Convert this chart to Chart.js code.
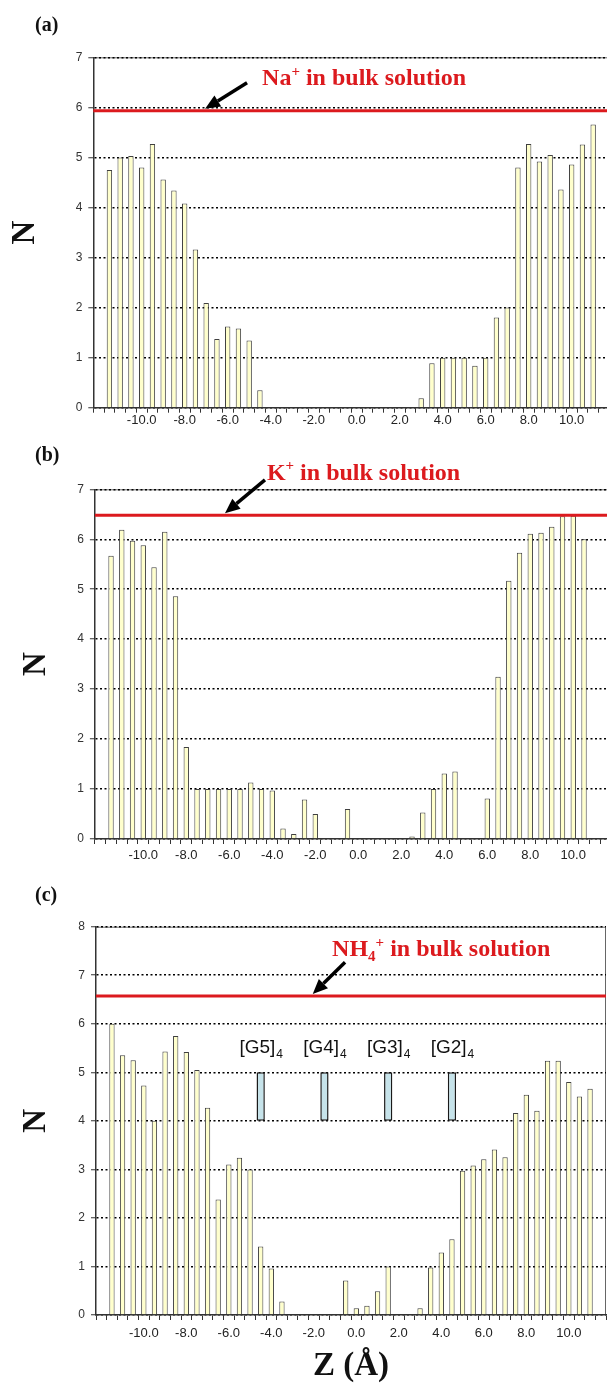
<!DOCTYPE html>
<html>
<head>
<meta charset="utf-8">
<title>Cation counts along the channel axis</title>
<script src="https://cdn.jsdelivr.net/npm/chart.js@4.4.1/dist/chart.umd.min.js"></script>
<style>
    html, body { margin: 0; padding: 0; background: #fff; }
    body { width: 607px; height: 1386px; position: relative; overflow: hidden; }
    canvas.panel { position: absolute; left: 0; }
    .tag {
        position: absolute; left: 35px; z-index: 2;
        font: bold 20px "Liberation Serif", "Times New Roman", serif;
        line-height: 24px; color: #111;
    }
</style>
</head>
<body>
<canvas id="chartNa" class="panel" style="top:0px" width="620" height="440"></canvas>
<canvas id="chartK" class="panel" style="top:430px" width="630" height="440"></canvas>
<canvas id="chartNH4" class="panel" style="top:870px" width="607" height="516"></canvas>
<div class="tag" style="top:12px">(a)</div>
<div class="tag" style="top:442px">(b)</div>
<div class="tag" style="top:882px">(c)</div>

<script>
// ==========================================
// DATA: ion counts N per 0.5 Å slab along Z
// ==========================================
const zLabels = [
    -12.0, -11.5, -11.0, -10.5, -10.0, -9.5, -9.0, -8.5,
    -8.0, -7.5, -7.0, -6.5, -6.0, -5.5, -5.0, -4.5,
    -4.0, -3.5, -3.0, -2.5, -2.0, -1.5, -1.0, -0.5,
    0.0, 0.5, 1.0, 1.5, 2.0, 2.5, 3.0, 3.5,
    4.0, 4.5, 5.0, 5.5, 6.0, 6.5, 7.0, 7.5,
    8.0, 8.5, 9.0, 9.5, 10.0, 10.5, 11.0, 11.5
];

const naCount = [
    0, 4.75, 5.00, 5.03, 4.80, 5.27, 4.56, 4.34,
    4.08, 3.16, 2.09, 1.37, 1.62, 1.58, 1.34, 0.35,
    0, 0, 0, 0, 0, 0, 0, 0,
    0, 0, 0, 0, 0, 0, 0.19, 0.89,
    1.00, 1.00, 1.00, 0.84, 1.00, 1.80, 2.00, 4.80,
    5.27, 4.92, 5.05, 4.36, 4.86, 5.26, 5.66, 0
];

const kCount = [
    0, 5.67, 6.19, 5.97, 5.88, 5.44, 6.15, 4.86,
    1.84, 1.00, 1.00, 1.00, 1.00, 1.00, 1.13, 1.00,
    0.97, 0.21, 0.10, 0.79, 0.50, 0, 0, 0.60,
    0, 0, 0, 0, 0, 0.05, 0.53, 1.00,
    1.31, 1.35, 0, 0, 0.81, 3.25, 5.17, 5.73,
    6.11, 6.13, 6.25, 6.46, 6.47, 6.00, 0, 0
];

const nh4Count = [
    0, 6.00, 5.35, 5.25, 4.73, 4.00, 5.43, 5.75,
    5.42, 5.05, 4.27, 2.38, 3.10, 3.24, 3.00, 1.41,
    0.96, 0.28, 0, 0, 0, 0, 0, 0.71,
    0.14, 0.19, 0.49, 1.00, 0, 0, 0.14, 0.98,
    1.29, 1.56, 2.97, 3.08, 3.21, 3.41, 3.25, 4.16,
    4.54, 4.21, 5.24, 5.24, 4.80, 4.50, 4.66, 0
];

// bulk-solution reference levels (Na+, K+, NH4+)
const bulkLevels = [5.93, 6.48, 6.57];
const yMaxes = [7, 7, 8];
const yTicks = [1, 1, 1];

// G-quartet positions and the N span their markers cover
const gBlockZ = [-4.5, -1.5, 1.5, 4.5];
const gBlockNames = ['G5', 'G4', 'G3', 'G2'];
const gBlockRange = [4, 5];

// ==========================================
// STYLE
// ==========================================
const RED = '#dc1a1e';
const INK = '#1a1a1a';
const SERIF = '"Liberation Serif", "Times New Roman", serif';
const SANS = '"Liberation Sans", Arial, sans-serif';

// fractional category position for an arbitrary Z value
function zPixel(xScale, z) {
    const step = zLabels[1] - zLabels[0];
    const p0 = xScale.getPixelForValue(0);
    const p1 = xScale.getPixelForValue(1);
    return p0 + (z - zLabels[0]) / step * (p1 - p0);
}

function drawArrow(ctx, x0, y0, x1, y1) {
    const ang = Math.atan2(y1 - y0, x1 - x0);
    const hl = 15, hw = 6.5;
    const bx = x1 - hl * Math.cos(ang);
    const by = y1 - hl * Math.sin(ang);
    ctx.strokeStyle = '#000';
    ctx.fillStyle = '#000';
    ctx.lineWidth = 3.5;
    ctx.lineCap = 'butt';
    ctx.beginPath();
    ctx.moveTo(x0, y0);
    ctx.lineTo(bx, by);
    ctx.stroke();
    ctx.beginPath();
    ctx.moveTo(x1, y1);
    ctx.lineTo(bx + hw * Math.sin(ang), by - hw * Math.cos(ang));
    ctx.lineTo(bx - hw * Math.sin(ang), by + hw * Math.cos(ang));
    ctx.closePath();
    ctx.fill();
}

// red bulk line, its label + arrow, plot frame and quartet captions
function decor(p) {
    return {
        id: 'decor',
        beforeDraw(chart) {
            const { ctx, chartArea: a } = chart;
            ctx.save();
            ctx.strokeStyle = '#666';
            ctx.lineWidth = 1;
            ctx.beginPath();
            ctx.moveTo(a.left, a.top + 0.5);
            ctx.lineTo(a.right - 0.5, a.top + 0.5);
            ctx.lineTo(a.right - 0.5, a.bottom);
            ctx.stroke();
            ctx.restore();
        },
        afterDatasetsDraw(chart) {
            const { ctx, chartArea: a, scales: { x, y } } = chart;
            ctx.save();

            const yb = y.getPixelForValue(p.bulk);
            ctx.strokeStyle = RED;
            ctx.lineWidth = 3;
            ctx.beginPath();
            ctx.moveTo(a.left, yb);
            ctx.lineTo(a.right, yb);
            ctx.stroke();

            ctx.fillStyle = RED;
            ctx.textAlign = 'left';
            ctx.textBaseline = 'middle';
            let cx = zPixel(x, p.text.z);
            const cy = y.getPixelForValue(p.text.n);
            p.ion.forEach(([t, shift]) => {
                ctx.font = `bold ${shift ? 15 : 24}px ${SERIF}`;
                ctx.fillText(t, cx, cy - shift * 7);
                cx += ctx.measureText(t).width;
            });

            drawArrow(ctx,
                zPixel(x, p.arrow.z0), y.getPixelForValue(p.arrow.n0),
                zPixel(x, p.arrow.z1), yb - 2);

            if (p.blocks) {
                const ly = y.getPixelForValue(p.blockLabelN);
                ctx.fillStyle = '#111';
                gBlockZ.forEach((z, i) => {
                    const main = `[${gBlockNames[i]}]`;
                    ctx.font = `19px ${SANS}`;
                    const w1 = ctx.measureText(main).width;
                    ctx.font = `12px ${SANS}`;
                    const w2 = ctx.measureText('4').width;
                    const sx = zPixel(x, z) - (w1 + w2) / 2;
                    ctx.font = `19px ${SANS}`;
                    ctx.fillText(main, sx, ly);
                    ctx.font = `12px ${SANS}`;
                    ctx.fillText('4', sx + w1 + 1, ly + 7);
                });
            }
            ctx.restore();
        }
    };
}

// ==========================================
// PANELS
// ==========================================
const panels = [
    {
        id: 'chartNa', counts: naCount, bulk: bulkLevels[0], yMax: yMaxes[0], step: yTicks[0],
        ion: [['Na', 0], ['+', 1], [' in bulk solution', 0]],
        area: { top: 57.3, left: 93.3, xh: 32.3, right: 10.7 }, nPad: 6, tickPad: 0,
        text: { z: -4.4, n: 6.57 }, arrow: { z0: -5.1, n0: 6.49, z1: -7.05 }
    },
    {
        id: 'chartK', counts: kCount, bulk: bulkLevels[1], yMax: yMaxes[1], step: yTicks[1],
        ion: [['K', 0], ['+', 1], [' in bulk solution', 0]],
        area: { top: 59.3, left: 94.9, xh: 31, right: 19.1 }, nPad: 17, tickPad: 4,
        text: { z: -4.25, n: 7.32 }, arrow: { z0: -4.34, n0: 7.19, z1: -6.2 }
    },
    {
        id: 'chartNH4', counts: nh4Count, bulk: bulkLevels[2], yMax: yMaxes[2], step: yTicks[2],
        ion: [['NH', 0], ['4', -1], ['+', 1], [' in bulk solution', 0]],
        area: { top: 56.7, left: 96, xh: 71, right: 1 }, nPad: 17, tickPad: 6,
        text: { z: -1.14, n: 7.52 }, arrow: { z0: -0.53, n0: 7.27, z1: -2.05 },
        blocks: true, blockLabelN: 5.5, zTitle: true
    }
];

panels.forEach(p => {
    const datasets = [{
        data: p.counts,
        backgroundColor: '#ffffcc',
        borderColor: '#404040',
        borderWidth: 1,
        barPercentage: 0.5,
        categoryPercentage: 1,
        grouped: false,
        order: 2
    }];

    if (p.blocks) {
        datasets.push({
            data: zLabels.map(z => gBlockZ.includes(z) ? gBlockRange.slice() : null),
            backgroundColor: '#c6e3ea',
            borderColor: INK,
            borderWidth: 1.5,
            borderSkipped: false,
            barPercentage: 0.78,
            categoryPercentage: 1,
            grouped: false,
            order: 1
        });
    }

    new Chart(document.getElementById(p.id), {
        type: 'bar',
        data: { labels: zLabels.map(z => z.toFixed(1)), datasets },
        plugins: [decor(p)],
        options: {
            responsive: false,
            animation: false,
            devicePixelRatio: 1,
            layout: { padding: { top: p.area.top, right: p.area.right, bottom: 0, left: 0 } },
            plugins: { legend: { display: false }, tooltip: { enabled: false } },
            scales: {
                x: {
                    offset: true,
                    grid: {
                        offset: true, drawOnChartArea: false, drawTicks: true,
                        tickLength: 5, tickColor: '#333', tickWidth: 1
                    },
                    border: { display: true, color: '#333', width: 1.5 },
                    ticks: {
                        autoSkip: false, maxRotation: 0, minRotation: 0,
                        padding: p.tickPad, color: '#222',
                        font: { family: SANS, size: 13 },
                        callback: (v, i) => {
                            const z = zLabels[i];
                            return (z % 2 === 0 && Math.abs(z) <= 10) ? z.toFixed(1) : '';
                        }
                    },
                    title: {
                        display: !!p.zTitle, text: 'Z (Å)', color: '#111',
                        font: { family: SERIF, size: 33, weight: 'bold' },
                        padding: { top: 0, bottom: 0 }
                    },
                    afterFit(s) { s.height = p.area.xh; }
                },
                y: {
                    min: 0, max: p.yMax,
                    ticks: {
                        stepSize: p.step, padding: 6, color: '#333',
                        font: { family: SANS, size: 12 }
                    },
                    grid: {
                        color: '#000', lineWidth: 1.5,
                        tickLength: 5, tickColor: '#333', tickWidth: 1, tickBorderDash: []
                    },
                    border: { display: true, color: '#333', width: 1.5, dash: [2, 2.5] },
                    title: {
                        display: true, text: 'N', color: '#111',
                        font: { family: SERIF, size: 33, weight: 'bold' },
                        padding: { top: p.nPad, bottom: 0 }
                    },
                    afterFit(s) { s.width = p.area.left; }
                }
            }
        }
    });
});
</script>
</body>
</html>
